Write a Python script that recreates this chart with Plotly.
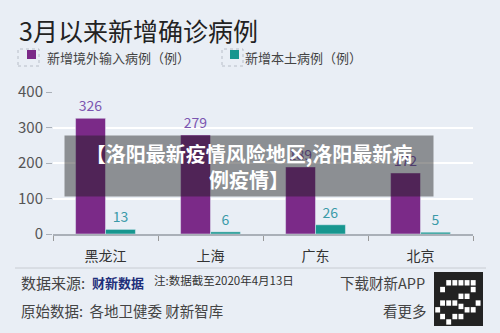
import plotly.graph_objects as go

categories = ["黑龙江", "上海", "广东", "北京"]
imported = [326, 279, 189, 172]
local = [13, 6, 26, 5]
yticks = [0, 100, 200, 300, 400]
series_names = ["新增境外输入病例（例）", "新增本土病例（例）"]

PURPLE = "#7b2a88"
TEAL = "#17968f"
BG = "#e9eef5"
FONT = "Noto Sans CJK SC"

fig = go.Figure()
fig.add_trace(go.Bar(x=categories, y=imported, name=series_names[0],
                     marker_color=PURPLE, text=imported, textposition="outside",
                     textfont=dict(color="#7b55b0", size=14), cliponaxis=False))
fig.add_trace(go.Bar(x=categories, y=local, name=series_names[1],
                     marker_color=TEAL, text=local, textposition="outside",
                     textfont=dict(color="#3a9aa8", size=14), cliponaxis=False))

fig.update_layout(
    width=500, height=333,
    margin=dict(l=53, r=27, t=92, b=99),
    paper_bgcolor=BG, plot_bgcolor=BG,
    font=dict(family=FONT, color="#444"),
    barmode="group", bargap=0.43, bargroupgap=0,
    showlegend=False,
    xaxis=dict(showgrid=False, tickson="boundaries", ticks="outside", ticklen=5,
               tickcolor="#999", showline=True, linecolor="#aab0b8", linewidth=2,
               tickfont=dict(size=14, color="#333"), ticklabelstandoff=8),
    yaxis=dict(range=[0, 400], tickvals=yticks, gridcolor="#ffffff", gridwidth=2,
               zeroline=False, ticks="outside", ticklen=6, tickcolor="#aab0b8",
               tickfont=dict(size=15, color="#555"), showline=False),
)

def P(px):
    return (px - 53) / 420.0

def Q(py):
    return (234 - py) / 142.0

fig.add_annotation(text="3月以来新增确诊病例", xref="paper", yref="paper",
                   x=P(17), y=Q(30), xanchor="left", yanchor="middle", showarrow=False,
                   font=dict(size=25, color="#222", family=FONT))

# custom legend
legend_items = [(series_names[0], PURPLE, 18, 27, 45), (series_names[1], TEAL, 222, 230, 243)]
for name, col, bx, mx, tx in legend_items:
    fig.add_shape(type="rect", xref="paper", yref="paper", x0=P(bx), x1=P(bx + 21),
                  y0=Q(66), y1=Q(49), line=dict(color="#b8bec8", width=1, dash="dot"),
                  fillcolor="rgba(0,0,0,0)")
    fig.add_shape(type="rect", xref="paper", yref="paper", x0=P(mx), x1=P(mx + 9),
                  y0=Q(59), y1=Q(50), fillcolor=col, line=dict(width=0))
    fig.add_annotation(text=name, xref="paper", yref="paper", x=P(tx), y=Q(57),
                       xanchor="left", yanchor="middle", showarrow=False,
                       font=dict(size=13, color="#444", family=FONT))

# overlay banner
fig.add_annotation(text="<b>【洛阳最新疫情风险地区,洛阳最新病<br>例疫情】</b>",
                   xref="paper", yref="paper", x=P(249), y=Q(166), xanchor="center",
                   yanchor="middle", showarrow=False, align="center",
                   width=366, height=58,
                   bgcolor="rgba(30,30,30,0.46)",
                   font=dict(size=20, color="white", family=FONT))

# footer divider
fig.add_shape(type="line", xref="paper", yref="paper", x0=P(15), x1=P(486),
              y0=Q(268), y1=Q(268), line=dict(color="#c8ccd2", width=1))

def foot(text, x, y, size=12, color="#444", anchor="left", bold=False):
    fig.add_annotation(text=("<b>%s</b>" % text) if bold else text, xref="paper", yref="paper",
                       x=P(x), y=Q(y), xanchor=anchor, yanchor="middle", showarrow=False,
                       font=dict(size=size, color=color, family=FONT))

foot("数据来源:", 19, 282, 15)
foot("财新数据", 90, 282, 13, "#1e2f7a", bold=True)
foot("注:数据截至2020年4月13日", 152, 280, 11.5, "#333")
foot("原始数据:  各地卫健委 财新智库", 19, 310, 14.5)
foot("下载财新APP", 427, 282, 14.5, "#444", anchor="right")
foot("看更多", 429, 310, 14.5, "#444", anchor="right")

# QR code block
qx0, qx1, qy0, qy1 = P(434), P(483), Q(326), Q(272)
fig.add_shape(type="rect", xref="paper", yref="paper", x0=qx0, x1=qx1, y0=qy0, y1=qy1,
              fillcolor="#222", line=dict(width=0))
cells = [(1,1),(2,3),(3,1),(4,4),(5,2),(6,5),(1,5),(3,6),(5,6),(6,2),(2,6),(4,1),(6,6),
         (3,3),(5,4),(1,3),(4,6),(2,0.2),(0.2,2),(6.8,3),(4,2.5)]
n = 8
for (i, j) in cells:
    fig.add_shape(type="rect", xref="paper", yref="paper",
                  x0=qx0 + (qx1-qx0)*i/n, x1=qx0 + (qx1-qx0)*(i+0.8)/n,
                  y0=qy0 + (qy1-qy0)*j/n, y1=qy0 + (qy1-qy0)*(j+0.8)/n,
                  fillcolor="white", line=dict(width=0))

fig.write_html("out.html")
